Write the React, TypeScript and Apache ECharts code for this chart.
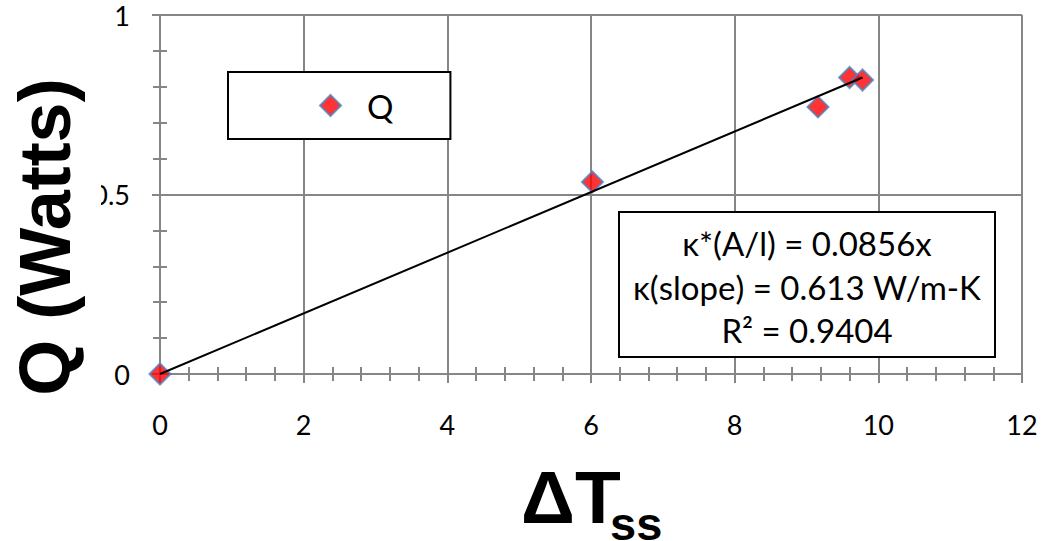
import React, { useEffect, useRef } from 'react';
import * as echarts from 'echarts';

// ---- data ----
const seriesName = 'Q';
const deltaT = [0, 6.02, 9.16, 9.6, 9.78];
const qWatts = [0, 0.535, 0.744, 0.826, 0.819];
const trendX = [0, 9.78];
const trendY = [0, 0.826];
const xMin = 0;
const xMax = 12;
const xStep = 2;
const yMin = 0;
const yMax = 1;
const yStep = 0.5;
const fitLines = ['κ*(A/l) = 0.0856x', 'κ(slope) = 0.613 W/m-K', 'R² = 0.9404'];
const xTitle = 'ΔT';
const xTitleSub = 'ss';
const yTitle = 'Q (Watts)';

const GRAY = '#868686';
const LABEL_FONT = 'Lato, "Open Sans", sans-serif';
const TITLE_FONT = '"Liberation Sans", Arial, sans-serif';

export default function App() {
  const ref = useRef<HTMLDivElement>(null);

  useEffect(() => {
    if (!ref.current) return;
    const chart = echarts.init(ref.current, undefined, { renderer: 'svg' });

    const axisLineStyle = { color: GRAY, width: 2 };
    const mainX = {
      type: 'value',
      min: xMin,
      max: xMax,
      interval: xStep,
      position: 'bottom',
      axisLine: { show: true, onZero: false, lineStyle: axisLineStyle },
      axisTick: { show: true, length: 9, lineStyle: axisLineStyle },
      minorTick: { show: true, splitNumber: 5, length: 7, lineStyle: axisLineStyle },
      axisLabel: { margin: 37, fontSize: 27, color: '#000', fontFamily: LABEL_FONT },
      splitLine: { show: true, lineStyle: axisLineStyle },
      minorSplitLine: { show: false },
    };
    const innerX = {
      type: 'value',
      min: xMin,
      max: xMax,
      interval: xStep,
      position: 'bottom',
      axisLine: { show: false },
      axisTick: { show: true, inside: true, length: 7, lineStyle: axisLineStyle },
      minorTick: { show: true, splitNumber: 5, length: 7, lineStyle: axisLineStyle },
      axisLabel: { show: false },
      splitLine: { show: false },
    };
    const mainY = {
      type: 'value',
      min: yMin,
      max: yMax,
      interval: yStep,
      position: 'left',
      axisLine: { show: true, onZero: false, lineStyle: axisLineStyle },
      axisTick: { show: true, length: 8, lineStyle: axisLineStyle },
      minorTick: { show: true, splitNumber: 5, length: 7, lineStyle: axisLineStyle },
      axisLabel: { margin: 30, fontSize: 27, color: '#000', fontFamily: LABEL_FONT },
      splitLine: { show: true, lineStyle: axisLineStyle },
      minorSplitLine: { show: false },
    };
    const innerY = {
      type: 'value',
      min: yMin,
      max: yMax,
      interval: yStep,
      position: 'left',
      axisLine: { show: false },
      axisTick: { show: true, inside: true, length: 7, lineStyle: axisLineStyle },
      minorTick: { show: true, splitNumber: 5, length: 7, lineStyle: axisLineStyle },
      axisLabel: { show: false },
      splitLine: { show: false },
    };

    const boxX = 619;
    const boxY = 212;
    const boxW = 376;
    const boxH = 145;
    const lineYs = [243, 287, 330];

    chart.setOption({
      animation: false,
      backgroundColor: '#fff',
      grid: { left: 160, right: 20, top: 15, bottom: 167, containLabel: false, outerBoundsMode: 'none' },
      xAxis: [mainX, innerX],
      yAxis: [mainY, innerY],
      legend: {
        data: [{ name: seriesName, icon: 'diamond' }],
        left: 228,
        top: 72,
        orient: 'horizontal',
        padding: [17, 57, 17, 91],
        itemWidth: 21,
        itemHeight: 21,
        borderColor: '#000',
        borderWidth: 2,
        borderRadius: 0,
        backgroundColor: '#fff',
        selectedMode: false,
        textStyle: { fontSize: 33, fontFamily: LABEL_FONT, color: '#000', padding: [0, 0, 0, 21] },
        itemStyle: { color: '#ff0000', borderColor: '#4f81bd', borderWidth: 2 },
      },
      series: [
        {
          type: 'scatter',
          name: seriesName,
          xAxisIndex: 0,
          yAxisIndex: 0,
          data: deltaT.map((x, i) => [x, qWatts[i]]),
          symbol: 'diamond',
          symbolSize: 21,
          itemStyle: { color: '#ff0000', borderColor: '#4f81bd', borderWidth: 2 },
          z: 3,
        },
        {
          type: 'line',
          name: 'trend',
          xAxisIndex: 0,
          yAxisIndex: 0,
          data: trendX.map((x, i) => [x, trendY[i]]),
          symbol: 'none',
          showSymbol: false,
          lineStyle: { color: '#000', width: 2 },
          silent: true,
          z: 4,
        },
      ],
      graphic: [
        {
          type: 'rect',
          shape: { x: 14, y: 66, width: 87, height: 342 },
          style: { fill: '#fff' },
          z: 50,
        },
        {
          type: 'text',
          x: 45,
          y: 237,
          rotation: Math.PI / 2,
          style: {
            text: yTitle,
            font: `bold 72px ${TITLE_FONT}`,
            fill: '#000',
            textAlign: 'center',
            textVerticalAlign: 'middle',
          },
          z: 51,
        },
        {
          type: 'text',
          x: 521,
          y: 497,
          style: {
            text: xTitle,
            font: `bold 75px ${TITLE_FONT}`,
            fill: '#000',
            textAlign: 'left',
            textVerticalAlign: 'middle',
          },
          z: 51,
        },
        {
          type: 'text',
          x: 610,
          y: 523,
          style: {
            text: xTitleSub,
            font: `bold 47px ${TITLE_FONT}`,
            fill: '#000',
            textAlign: 'left',
            textVerticalAlign: 'middle',
          },
          z: 51,
        },
        {
          type: 'rect',
          shape: { x: boxX, y: boxY, width: boxW, height: boxH },
          style: { fill: '#fff', stroke: '#000', lineWidth: 2 },
          z: 50,
        },
        ...fitLines.map((t, i) => ({
          type: 'text',
          x: boxX + boxW / 2,
          y: lineYs[i],
          style: {
            text: t,
            font: `33px ${LABEL_FONT}`,
            fill: '#000',
            textAlign: 'center',
            textVerticalAlign: 'middle',
          },
          z: 51,
        })),
      ],
    });

    return () => chart.dispose();
  }, []);

  return (
    <div
      ref={ref}
      style={{ position: 'fixed', left: 0, top: 0, width: 1042, height: 541, background: '#fff' }}
    />
  );
}
